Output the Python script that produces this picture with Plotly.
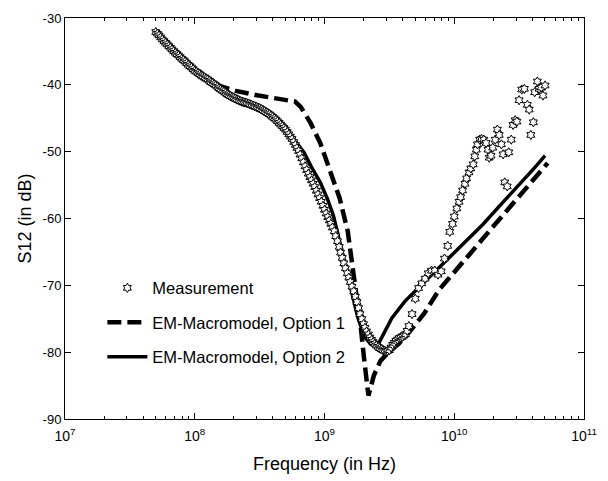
import plotly.graph_objects as go

# ---------------- data ----------------
meas_freq = [
    5.01e7, 5.16e7, 5.31e7, 5.46e7, 5.62e7, 5.79e7, 5.96e7, 6.13e7, 6.31e7, 6.49e7, 6.68e7, 6.88e7,
    7.08e7, 7.29e7, 7.50e7, 7.72e7, 7.94e7, 8.18e7, 8.41e7, 8.66e7, 8.91e7, 9.17e7, 9.44e7, 9.72e7,
    1.00e8, 1.03e8, 1.06e8, 1.09e8, 1.12e8, 1.15e8, 1.19e8, 1.22e8, 1.26e8, 1.30e8, 1.33e8, 1.37e8,
    1.41e8, 1.45e8, 1.50e8, 1.54e8, 1.58e8, 1.63e8, 1.68e8, 1.73e8, 1.78e8, 1.83e8, 1.88e8, 1.94e8,
    2.00e8, 2.05e8, 2.11e8, 2.18e8, 2.24e8, 2.31e8, 2.37e8, 2.44e8, 2.51e8, 2.59e8, 2.66e8, 2.74e8,
    2.82e8, 2.90e8, 2.99e8, 3.07e8, 3.16e8, 3.26e8, 3.35e8, 3.45e8, 3.55e8, 3.65e8, 3.76e8, 3.87e8,
    3.98e8, 4.10e8, 4.22e8, 4.34e8, 4.47e8, 4.60e8, 4.73e8, 4.87e8, 5.01e8, 5.16e8, 5.31e8, 5.46e8,
    5.62e8, 5.79e8, 5.96e8, 6.13e8, 6.31e8, 6.49e8, 6.68e8, 6.88e8, 7.08e8, 7.29e8, 7.50e8, 7.72e8,
    7.94e8, 8.18e8, 8.41e8, 8.66e8, 8.91e8, 9.17e8, 9.44e8, 9.72e8,
    1.00e9, 1.03e9, 1.06e9, 1.09e9, 1.12e9, 1.15e9, 1.19e9, 1.22e9, 1.26e9, 1.30e9, 1.33e9, 1.37e9,
    1.41e9, 1.45e9, 1.50e9, 1.54e9, 1.58e9, 1.63e9, 1.68e9, 1.73e9, 1.78e9, 1.83e9, 1.88e9, 1.94e9,
    2.00e9, 2.05e9, 2.11e9, 2.18e9, 2.24e9, 2.31e9, 2.37e9, 2.44e9, 2.51e9, 2.59e9, 2.66e9, 2.74e9,
    2.82e9, 2.90e9, 2.99e9, 3.07e9, 3.16e9, 3.26e9, 3.35e9, 3.45e9, 3.55e9, 3.65e9, 3.76e9, 3.87e9,
    3.98e9, 4.10e9, 4.22e9, 4.34e9, 4.47e9,
    4.73e9, 5.01e9, 5.31e9, 5.62e9, 5.96e9, 6.31e9, 6.68e9, 7.08e9, 7.50e9, 7.94e9, 8.41e9, 8.91e9,
    9.23e9, 9.70e9, 1.00e10, 1.047e10, 1.09e10, 1.12e10, 1.16e10, 1.21e10, 1.245e10, 1.30e10,
    1.34e10, 1.40e10, 1.44e10, 1.48e10, 1.51e10, 1.57e10, 1.62e10, 1.69e10, 1.76e10, 1.82e10,
    1.86e10, 1.92e10, 1.98e10, 2.07e10, 2.15e10, 2.22e10, 2.31e10, 2.38e10, 2.45e10, 2.56e10,
    2.63e10, 2.75e10, 2.84e10, 2.95e10, 3.04e10, 3.16e10, 3.31e10, 3.47e10, 3.66e10, 3.78e10,
    3.89e10, 4.07e10, 4.17e10, 4.37e10, 4.51e10, 4.68e10, 4.83e10, 5.01e10,
]
meas_db = [
    -32.1, -32.35, -32.6, -32.9, -33.2, -33.45, -33.7, -33.95, -34.2, -34.45, -34.7, -34.95,
    -35.2, -35.4, -35.6, -35.85, -36.1, -36.3, -36.5, -36.75, -37.0, -37.2, -37.4, -37.65,
    -37.9, -38.05, -38.2, -38.4, -38.6, -38.75, -38.9, -39.05, -39.2, -39.4, -39.6, -39.75,
    -39.9, -40.1, -40.3, -40.5, -40.7, -40.85, -41.0, -41.2, -41.4, -41.55, -41.7, -41.8,
    -41.9, -42.05, -42.2, -42.3, -42.4, -42.5, -42.6, -42.65, -42.7, -42.8, -42.9, -43.0,
    -43.1, -43.2, -43.3, -43.4, -43.5, -43.65, -43.8, -43.95, -44.1, -44.25, -44.4, -44.6,
    -44.8, -45.0, -45.2, -45.45, -45.7, -45.95, -46.2, -46.45, -46.7, -47.05, -47.4, -47.75,
    -48.1, -48.55, -49.0, -49.45, -49.9, -50.45, -51.0, -51.6, -52.2, -52.75, -53.3, -53.8,
    -54.3, -54.8, -55.3, -55.85, -56.4, -56.95, -57.5, -58.1,
    -58.7, -59.25, -59.8, -60.3, -60.8, -61.35, -61.9, -62.65, -63.4, -64.25, -65.1, -65.9,
    -66.7, -67.45, -68.2, -68.85, -69.5, -70.2, -70.9, -71.7, -72.5, -73.4, -74.3, -75.05,
    -75.8, -76.35, -76.9, -77.35, -77.8, -78.15, -78.5, -78.75, -79.0, -79.2, -79.4, -79.55,
    -79.7, -79.8, -79.9, -79.8, -79.7, -79.3, -78.9, -78.6, -78.3, -78.1, -77.9, -77.8,
    -77.7, -77.5, -77.3, -76.8, -76.1,
    -74.3, -72.0, -70.4, -69.7, -69.0, -68.2, -67.8, -67.8, -68.4, -67.9, -66.0, -64.1,
    -62.0, -60.8, -59.7, -58.5, -57.5, -56.8, -55.8, -54.8, -54.0, -53.1,
    -52.5, -51.9, -50.7, -49.7, -48.9, -48.2, -48.1, -48.2, -48.7, -49.7,
    -50.9, -50.6, -49.4, -48.2, -46.7, -47.5, -48.9, -50.4, -54.6, -55.2,
    -50.1, -48.2, -46.0, -45.3, -45.5, -42.3, -40.7, -40.6, -43.0, -43.7,
    -47.5, -45.6, -41.1, -39.5, -40.6, -40.4, -41.6, -40.1,
]

opt1_freq = [
    5.01e7, 1.00e8, 1.58e8, 2.07e8, 3.10e8, 4.65e8, 5.94e8, 6.56e8, 7.80e8, 9.27e8,
    1.10e9, 1.31e9, 1.51e9, 1.75e9, 1.91e9, 2.02e9, 2.18e9, 2.40e9, 2.70e9, 3.12e9,
    3.71e9, 4.67e9, 5.87e9, 7.62e9, 9.33e9, 1.32e10, 1.86e10, 2.63e10, 3.72e10, 4.57e10, 5.25e10,
]
opt1_db = [
    -32.1, -37.9, -40.2, -40.9, -41.6, -42.1, -42.5, -43.3, -45.7, -48.7,
    -52.6, -57.0, -61.9, -70.5, -76.5, -81.0, -86.5, -83.5, -81.3, -80.0,
    -78.8, -76.6, -74.2, -70.7, -68.8, -65.3, -61.9, -58.5, -55.0, -53.1, -51.7,
]

opt2_freq = [
    5.01e7, 1.00e8, 1.58e8, 2.00e8, 2.51e8, 3.16e8, 3.98e8, 4.92e8, 5.89e8, 6.95e8,
    7.94e8, 9.27e8, 1.05e9, 1.17e9, 1.31e9, 1.56e9, 1.80e9, 2.02e9, 2.27e9, 2.55e9,
    2.86e9, 3.30e9, 4.16e9, 5.24e9, 6.61e9, 8.32e9, 1.17e10, 1.66e10, 2.34e10, 3.31e10,
    4.17e10, 5.01e10,
]
opt2_db = [
    -32.1, -37.9, -40.6, -41.8, -42.6, -43.4, -44.7, -46.5, -48.3, -50.1,
    -52.3, -54.6, -57.0, -59.5, -63.5, -69.8, -74.7, -77.6, -78.8, -79.1,
    -77.1, -74.9, -72.4, -70.5, -68.6, -66.6, -63.9, -60.9, -57.7, -54.6,
    -52.4, -50.6,
]

series_names = ["Measurement", "EM-Macromodel, Option 1", "EM-Macromodel, Option 2"]
x_tick_exponents = [7, 8, 9, 10, 11]
y_ticks = [-90, -80, -70, -60, -50, -40, -30]
y_tick_text = ["-90", "-80", "-70", "-60", "-50", "-40", "-30"]

# ---------------- figure ----------------
FONT = "Liberation Sans, Arial, Helvetica, sans-serif"
fig = go.Figure()

fig.add_trace(go.Scatter(
    x=opt1_freq, y=opt1_db, mode="lines", name=series_names[1],
    line=dict(color="black", width=4.5, dash="14px,6px"),
    legendrank=2, legendgroup="b",
))
fig.add_trace(go.Scatter(
    x=opt2_freq, y=opt2_db, mode="lines", name=series_names[2],
    line=dict(color="black", width=3.5),
    legendrank=3, legendgroup="c",
))
fig.add_trace(go.Scatter(
    x=meas_freq, y=meas_db, mode="markers", name=series_names[0],
    marker=dict(symbol="hexagram", size=7, color="white",
                line=dict(color="black", width=1)),
    legendrank=1, legendgroup="a",
))

minor_vals = [m * 10 ** e for e in range(7, 11) for m in range(2, 10)]

fig.update_layout(
    width=608, height=481,
    margin=dict(l=65, r=11, t=13, b=60),
    paper_bgcolor="white", plot_bgcolor="white",
    font=dict(family=FONT, color="black", size=13),
    showlegend=True,
    legend=dict(
        x=0.072, y=0.37, xanchor="left", yanchor="top",
        bgcolor="rgba(0,0,0,0)", borderwidth=0,
        font=dict(family=FONT, size=16.5, color="black"),
        tracegroupgap=10, itemwidth=40,
    ),
    xaxis=dict(
        type="log", range=[7, 11],
        tickvals=[10 ** e for e in x_tick_exponents],
        ticktext=["10<sup>%d</sup>" % e for e in x_tick_exponents],
        ticks="inside", ticklen=6, tickwidth=1, tickcolor="black",
        minor=dict(tickvals=minor_vals, ticks="inside", ticklen=3, tickcolor="black"),
        showline=True, linecolor="black", linewidth=1, mirror="ticks",
        showgrid=False, zeroline=False,
        tickfont=dict(family=FONT, size=14, color="black"),
        ticklabelstandoff=4, ticklabeloverflow="allow",
        title=dict(text="Frequency (in Hz)", font=dict(family=FONT, size=18, color="black"),
                   standoff=14),
    ),
    yaxis=dict(
        range=[-90, -30], tickvals=y_ticks, ticktext=y_tick_text,
        ticks="inside", ticklen=6, tickwidth=1, tickcolor="black",
        showline=True, linecolor="black", linewidth=1, mirror="ticks",
        showgrid=False, zeroline=False,
        tickfont=dict(family=FONT, size=13, color="black"),
        title=dict(text="S12 (in dB)", font=dict(family=FONT, size=18, color="black"),
                   standoff=6),
    ),
)

fig.write_html("out.html")
